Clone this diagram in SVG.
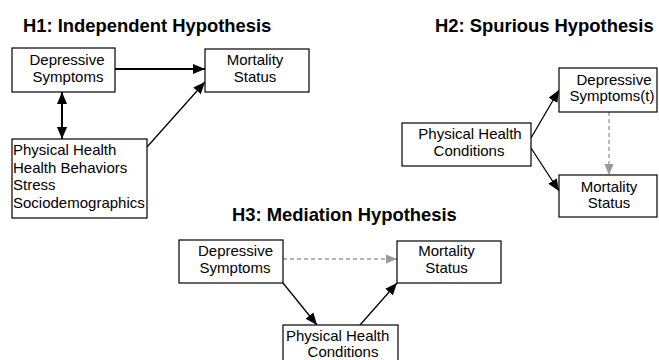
<svg xmlns="http://www.w3.org/2000/svg" width="659" height="360" viewBox="0 0 659 360">
<style>
.title{font-family:"Liberation Sans",Arial,sans-serif;font-weight:bold;font-size:18.4px;fill:#000}
.lbl{font-family:"Liberation Sans",Arial,sans-serif;font-size:15px;fill:#000}
.c{text-anchor:middle}
.box{fill:#fff;stroke:#000;stroke-width:1.2}
.a{fill:none;stroke:#000;stroke-width:1.3}
.ab{fill:none;stroke:#000;stroke-width:2}
.d{fill:none;stroke:#999;stroke-width:1.3;stroke-dasharray:4,3}
</style>
<defs>
<marker id="ah" markerUnits="userSpaceOnUse" markerWidth="12" markerHeight="12" viewBox="0 0 10 10" refX="10" refY="5" orient="auto-start-reverse">
<path d="M0,0.8 L10,5 L0,9.2 Z" fill="#000"/>
</marker>
<marker id="ag" markerUnits="userSpaceOnUse" markerWidth="11" markerHeight="11" viewBox="0 0 10 10" refX="10" refY="5" orient="auto">
<path d="M0,0.8 L10,5 L0,9.2 Z" fill="#999"/>
</marker>
</defs>

<text class="title" x="23" y="32">H1: Independent Hypothesis</text>
<text class="title" x="435" y="32">H2: Spurious Hypothesis</text>
<text class="title" x="232" y="221">H3: Mediation Hypothesis</text>

<g id="connectors">
<line class="ab" x1="115" y1="69" x2="205" y2="69" marker-end="url(#ah)"/>
<line class="ab" x1="62" y1="92" x2="62" y2="139" marker-start="url(#ah)" marker-end="url(#ah)"/>
<line class="a" x1="147" y1="147" x2="205" y2="82" marker-end="url(#ah)"/>
<line class="a" x1="531" y1="138" x2="559" y2="90" marker-end="url(#ah)"/>
<line class="a" x1="531" y1="148" x2="559" y2="191" marker-end="url(#ah)"/>
<line class="d" x1="609" y1="112" x2="609" y2="175" marker-end="url(#ag)"/>
<line class="d" x1="283" y1="259" x2="397" y2="259" marker-end="url(#ag)"/>
<line class="a" x1="283" y1="283" x2="317" y2="325" marker-end="url(#ah)"/>
<line class="a" x1="360" y1="325" x2="397" y2="283" marker-end="url(#ah)"/>
</g>

<g id="h1-depressive">
<rect class="box" x="12" y="48" width="103" height="44"/>
<text class="lbl c" x="67" y="65">Depressive</text>
<text class="lbl c" x="68" y="82">Symptoms</text>
</g>
<g id="h1-mortality">
<rect class="box" x="205" y="49" width="104" height="43"/>
<text class="lbl c" x="255" y="65">Mortality</text>
<text class="lbl c" x="255" y="82">Status</text>
</g>
<g id="h1-covariates">
<rect class="box" x="12" y="139" width="135" height="79"/>
<text class="lbl" x="13" y="155">Physical Health</text>
<text class="lbl" x="13" y="172.5">Health Behaviors</text>
<text class="lbl" x="13" y="190">Stress</text>
<text class="lbl" x="13" y="207.5">Sociodemographics</text>
</g>

<g id="h2-physical">
<rect class="box" x="402" y="123" width="129" height="43"/>
<text class="lbl c" x="470" y="139">Physical Health</text>
<text class="lbl c" x="469" y="156">Conditions</text>
</g>
<g id="h2-depressive">
<rect class="box" x="559" y="68" width="98" height="44"/>
<text class="lbl c" x="614" y="85">Depressive</text>
<text class="lbl c" x="612" y="101">Symptoms(t)</text>
</g>
<g id="h2-mortality">
<rect class="box" x="559" y="175" width="98" height="42"/>
<text class="lbl c" x="609" y="192">Mortality</text>
<text class="lbl c" x="609" y="208">Status</text>
</g>

<g id="h3-depressive">
<rect class="box" x="179" y="240" width="104" height="43"/>
<text class="lbl c" x="235.5" y="256">Depressive</text>
<text class="lbl c" x="235" y="273">Symptoms</text>
</g>
<g id="h3-mortality">
<rect class="box" x="397" y="241" width="104" height="42"/>
<text class="lbl c" x="446.5" y="256">Mortality</text>
<text class="lbl c" x="446.5" y="273">Status</text>
</g>
<g id="h3-physical">
<rect class="box" x="283" y="325" width="115" height="40"/>
<text class="lbl" x="286" y="341">Physical Health</text>
<text class="lbl c" x="343" y="357">Conditions</text>
</g>
</svg>
